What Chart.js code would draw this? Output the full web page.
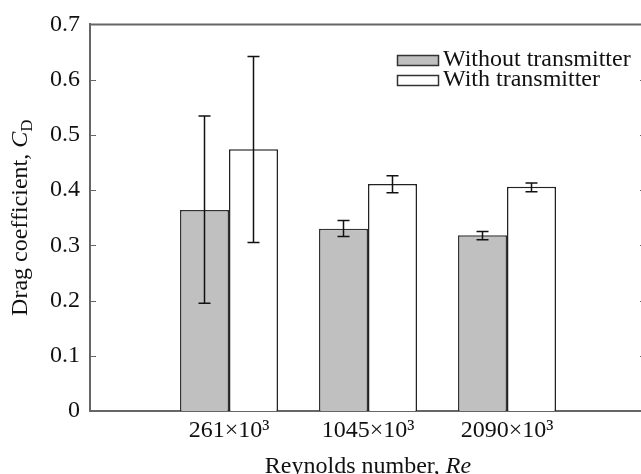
<!DOCTYPE html>
<html>
<head>
<meta charset="utf-8">
<script src="https://cdn.jsdelivr.net/npm/chart.js@4.4.1/dist/chart.umd.min.js"></script>
<style>
  html, body { margin: 0; padding: 0; background: #fff; overflow: hidden; }
  #wrap { position: absolute; left: 0; top: 0; width: 660px; height: 474px; }
</style>
</head>
<body>
<div id="wrap"><canvas id="c" width="660" height="474"></canvas></div>
<script>
// ---- data ----
const categories = ['261×10³', '1045×10³', '2090×10³'];
const seriesNames = ['Without transmitter', 'With transmitter'];
const withoutTx = [0.364, 0.330, 0.318];
const withoutTxLow = [0.195, 0.316, 0.310];
const withoutTxHigh = [0.534, 0.345, 0.325];
const withTx = [0.474, 0.411, 0.406];
const withTxLow = [0.305, 0.395, 0.397];
const withTxHigh = [0.642, 0.426, 0.413];
const yTickLabels = ['0', '0.1', '0.2', '0.3', '0.4', '0.5', '0.6', '0.7'];

const FONT = "'Liberation Serif', 'Times New Roman', serif";
const FS = 24;
const INK = '#111';
const AXIS = '#666';

// pad category axis with empty slots at each end
const labels = [''].concat(categories, ['']);
const pad = arr => [null].concat(arr, [null]);

const errorSets = [
  { low: pad(withoutTxLow), high: pad(withoutTxHigh) },
  { low: pad(withTxLow), high: pad(withTxHigh) }
];

const errorBarPlugin = {
  id: 'errorBars',
  afterDatasetsDraw(chart) {
    const ctx = chart.ctx, y = chart.scales.y;
    ctx.save();
    ctx.strokeStyle = INK;
    ctx.lineWidth = 1.5;
    chart.data.datasets.forEach((ds, di) => {
      const meta = chart.getDatasetMeta(di);
      meta.data.forEach((bar, i) => {
        const lo = errorSets[di].low[i], hi = errorSets[di].high[i];
        if (lo == null || hi == null) return;
        const x = bar.x, yl = y.getPixelForValue(lo), yh = y.getPixelForValue(hi);
        ctx.beginPath();
        ctx.moveTo(x, yl); ctx.lineTo(x, yh);
        ctx.moveTo(x - 6, yl); ctx.lineTo(x + 6, yl);
        ctx.moveTo(x - 6, yh); ctx.lineTo(x + 6, yh);
        ctx.stroke();
      });
    });
    ctx.restore();
  }
};

const framePlugin = {
  id: 'frame',
  afterDraw(chart) {
    const ctx = chart.ctx, a = chart.chartArea, y = chart.scales.y;
    ctx.save();
    ctx.strokeStyle = AXIS;
    ctx.lineWidth = 2;
    ctx.beginPath();
    ctx.moveTo(a.left, a.top); ctx.lineTo(a.right, a.top);
    ctx.moveTo(a.right, a.top); ctx.lineTo(a.right, a.bottom);
    ctx.stroke();
    ctx.lineWidth = 1;
    ctx.beginPath();
    y.ticks.forEach(t => {
      const py = Math.round(y.getPixelForValue(t.value)) + 0.5;
      ctx.moveTo(a.left, py); ctx.lineTo(a.left + 6, py);
      ctx.moveTo(a.right - 6, py); ctx.lineTo(a.right, py);
    });
    ctx.stroke();

    // axis titles
    ctx.fillStyle = INK;
    ctx.textBaseline = 'alphabetic';
    ctx.textAlign = 'left';
    const reg = FS + 'px ' + FONT, ital = 'italic ' + FS + 'px ' + FONT, sub = '17px ' + FONT;
    // x title
    const p1 = 'Reynolds number, ', p2 = 'Re';
    ctx.font = reg;
    const w1 = ctx.measureText(p1).width;
    ctx.font = ital;
    const w2 = ctx.measureText(p2).width;
    const sx = (a.left + a.right) / 2 - (w1 + w2) / 2;
    ctx.font = reg;
    ctx.fillText(p1, sx, 473);
    ctx.font = ital;
    ctx.fillText(p2, sx + w1, 473);

    // y title (rotated)
    const q1 = 'Drag coefficient, ', q2 = 'C', q3 = 'D';
    ctx.font = reg;
    const v1 = ctx.measureText(q1).width;
    ctx.font = ital;
    const v2 = ctx.measureText(q2).width;
    ctx.font = sub;
    const v3 = ctx.measureText(q3).width;
    const total = v1 + v2 + v3;
    ctx.translate(27, (a.top + a.bottom) / 2);
    ctx.rotate(-Math.PI / 2);
    const tx = -total / 2;
    ctx.font = reg;
    ctx.fillText(q1, tx, 0);
    ctx.font = ital;
    ctx.fillText(q2, tx + v1, 0);
    ctx.font = sub;
    ctx.fillText(q3, tx + v1 + v2, 5);
    ctx.restore();

    // legend
    ctx.save();
    const fills = ['#c0c0c0', '#ffffff'];
    const rowsY = [66, 86];
    ctx.font = reg;
    seriesNames.forEach((name, i) => {
      ctx.fillStyle = fills[i];
      ctx.fillRect(397.5, rowsY[i] - 10.5, 41, 10);
      ctx.strokeStyle = '#333';
      ctx.lineWidth = 1.5;
      ctx.strokeRect(397.5, rowsY[i] - 10.5, 41, 10);
      ctx.fillStyle = INK;
      ctx.fillText(name, 443, rowsY[i]);
    });
    ctx.restore();
  }
};

new Chart(document.getElementById('c'), {
  type: 'bar',
  data: {
    labels: labels,
    datasets: [
      { label: seriesNames[0], data: pad(withoutTx), backgroundColor: '#c0c0c0', borderColor: '#333', borderWidth: 1.5 },
      { label: seriesNames[1], data: pad(withTx), backgroundColor: '#ffffff', borderColor: '#222', borderWidth: 1.5 }
    ]
  },
  options: {
    responsive: false,
    animation: false,
    layout: { padding: { top: 21, right: 14, left: 0, bottom: 0 } },
    datasets: { bar: { categoryPercentage: 0.705, barPercentage: 1.0 } },
    plugins: { legend: { display: false }, tooltip: { enabled: false } },
    scales: {
      x: {
        type: 'category',
        offset: false,
        grid: { display: false, drawTicks: false },
        border: { display: true, color: AXIS, width: 2 },
        ticks: { color: INK, font: { family: FONT, size: FS }, padding: 5, maxRotation: 0, autoSkip: false },
        afterFit(s) { s.height = 63; }
      },
      y: {
        min: 0, max: 0.7,
        grid: { display: false, drawTicks: false },
        border: { display: true, color: AXIS, width: 2 },
        ticks: {
          stepSize: 0.1, color: INK, font: { family: FONT, size: FS }, padding: 10,
          callback: (v, i) => yTickLabels[i]
        },
        afterFit(s) { s.width = 90; }
      }
    }
  },
  plugins: [errorBarPlugin, framePlugin]
});
</script>
</body>
</html>
